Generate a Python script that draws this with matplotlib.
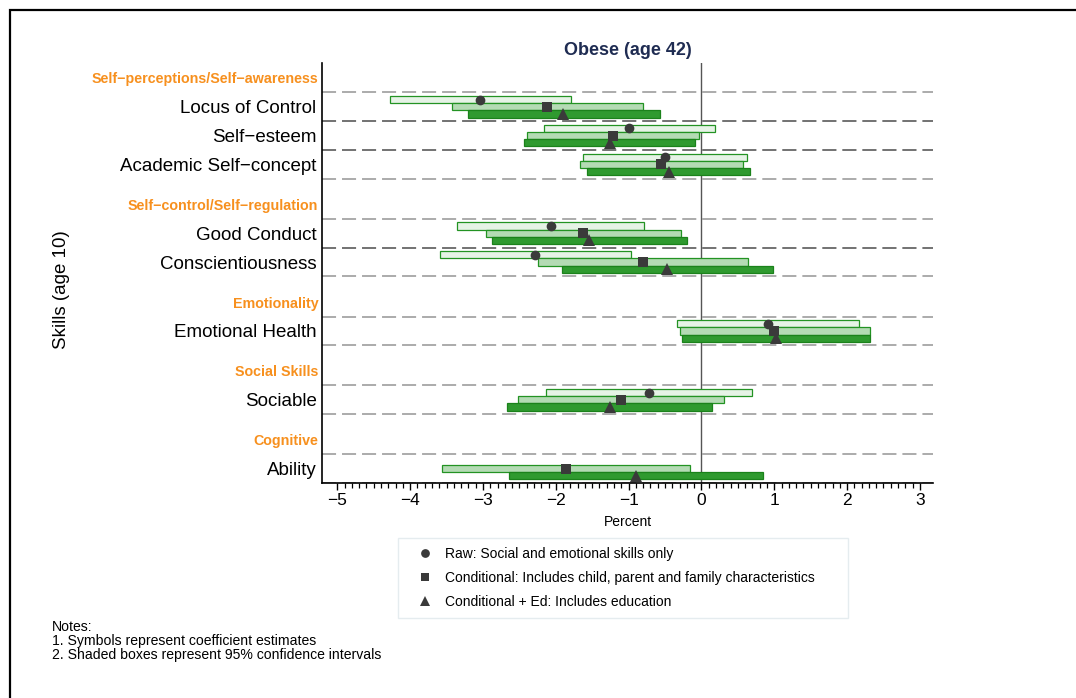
import numpy as np
import matplotlib
matplotlib.use("Agg")
import matplotlib.pyplot as plt
from matplotlib.lines import Line2D
from matplotlib.patches import Rectangle
from matplotlib.transforms import blended_transform_factory

plt.rcParams['font.family'] = ['Liberation Sans', 'DejaVu Sans']

# ---- data -------------------------------------------------------------
groups = ["Self\u2212perceptions/Self\u2212awareness", "Self\u2212control/Self\u2212regulation",
          "Emotionality", "Social Skills", "Cognitive"]
group_sizes = [3, 2, 1, 1, 1]
skills = ["Locus of Control", "Self\u2212esteem", "Academic Self\u2212concept",
          "Good Conduct", "Conscientiousness", "Emotional Health",
          "Sociable", "Ability"]

nan = np.nan
raw_est = [-3.04, -0.99, -0.50, -2.07, -2.28, 0.92, -0.72, nan]
raw_lo = [-4.27, -2.16, -1.62, -3.35, -3.59, -0.33, -2.13, nan]
raw_hi = [-1.79, 0.19, 0.62, -0.79, -0.97, 2.17, 0.69, nan]

cond_est = [-2.12, -1.22, -0.55, -1.62, -0.80, 1.00, -1.11, -1.86]
cond_lo = [-3.43, -2.40, -1.67, -2.96, -2.24, -0.30, -2.52, -3.56]
cond_hi = [-0.80, -0.03, 0.57, -0.28, 0.64, 2.31, 0.31, -0.16]

ed_est = [-1.90, -1.26, -0.45, -1.55, -0.47, 1.02, -1.26, -0.90]
ed_lo = [-3.20, -2.44, -1.57, -2.88, -1.91, -0.27, -2.67, -2.64]
ed_hi = [-0.57, -0.09, 0.67, -0.20, 0.98, 2.32, 0.15, 0.85]

series_labels = ["Raw: Social and emotional skills only",
                 "Conditional: Includes child, parent and family characteristics",
                 "Conditional + Ed: Includes education"]
x_ticks = [-5, -4, -3, -2, -1, 0, 1, 2, 3]

# ---- row layout -------------------------------------------------------
group_gap = 1.39
header_y, skill_y = [], []
pos = 0.0
for gi, n in enumerate(group_sizes):
    if gi > 0:
        pos += group_gap
    header_y.append(pos)
    for _ in range(n):
        pos += 1.0
        skill_y.append(pos)
skill_y = np.array(skill_y)

# ---- figure -----------------------------------------------------------
fig = plt.figure(figsize=(10.76, 6.98), dpi=100)
ax = fig.add_axes([0.2993, 0.3080, 0.8671 - 0.2993, 0.9097 - 0.3080])

fill_cols = ["#e6f3e6", "#b4dbb4", "#2f9a2f"]
edge_cols = ["#239323", "#239323", "#1b821b"]
markers = ["o", "s", "^"]
msizes = [7.0, 6.5, 8.0]
offsets = [-0.25, 0.0, 0.25]
bar_h = 0.25
mark_col = "#3a3a3a"

# dashed separators above and below each skill row
for y in skill_y:
    for yy in (y - 0.5, y + 0.5):
        ax.axhline(yy, color="black", alpha=0.42, lw=1.1,
                   dashes=(9.2, 3.9), zorder=1)

ax.axvline(0, color="#555555", lw=1.0, zorder=1.5)

series = [(raw_lo, raw_hi, raw_est), (cond_lo, cond_hi, cond_est),
          (ed_lo, ed_hi, ed_est)]
for k, (lo, hi, est) in enumerate(series):
    lo = np.array(lo); hi = np.array(hi)
    ok = ~np.isnan(lo)
    yy = skill_y[ok] + offsets[k]
    ax.barh(yy, hi[ok] - lo[ok], left=lo[ok], height=bar_h,
            color=fill_cols[k], edgecolor=edge_cols[k], linewidth=0.9,
            zorder=2 + k * 0.1)
for k, (lo, hi, est) in enumerate(series):
    est = np.array(est)
    ok = ~np.isnan(est)
    ax.plot(est[ok], skill_y[ok] + offsets[k], linestyle="none",
            marker=markers[k], ms=msizes[k], color=mark_col,
            markeredgewidth=0, zorder=5)

ax.set_xlim(-5.21, 3.18)
ax.set_ylim(skill_y[-1] + 0.5, -0.52)

# axes styling
for s in ("top", "right"):
    ax.spines[s].set_visible(False)
for s in ("left", "bottom"):
    ax.spines[s].set_linewidth(1.2)

ax.set_xticks(x_ticks)
ax.set_xticklabels([f"{t}".replace("-", "\u2212") for t in x_ticks], fontsize=12.5)
ax.set_xticks(np.round(np.arange(-5, 3.001, 0.1), 2), minor=True)
ax.tick_params(axis="x", which="major", length=5, width=1.0, pad=2)
ax.tick_params(axis="x", which="minor", length=3.5, width=0.9)
ax.set_xlabel("Percent", fontsize=10, labelpad=5)

ax.set_yticks(skill_y)
ax.set_yticklabels(skills, fontsize=13.5)
ax.tick_params(axis="y", length=0, pad=4)

trans = blended_transform_factory(ax.transAxes, ax.transData)
for g, y in zip(groups, header_y):
    ax.text(-0.006, y + 0.05, g, transform=trans, ha="right", va="center",
            fontsize=10.3, fontweight="bold", color="#f7901e")

ax.set_title("Obese (age 42)", fontsize=13, fontweight="bold",
             color="#1f2c52", pad=6)

fig.text(62 / 1076, 1 - 290 / 698, "Skills (age 10)", rotation=90,
         ha="center", va="center", fontsize=13.5)

# legend
handles = [Line2D([], [], linestyle="none", marker=markers[k], ms=msizes[k] * 0.9,
                  color=mark_col, markeredgewidth=0) for k in range(3)]
leg = fig.legend(handles, series_labels, loc="upper left",
                 bbox_to_anchor=(398 / 1076, 1 - 618 / 698, 450 / 1076, 80 / 698),
                 mode="expand", fontsize=10, frameon=True, fancybox=False,
                 borderaxespad=0, borderpad=0.65, labelspacing=0.73,
                 handlelength=2.6, handletextpad=0.15)
leg.get_frame().set_edgecolor("#dfe8ec")
leg.get_frame().set_linewidth(1.0)

# notes
fig.text(52 / 1076, 1 - 620 / 698,
         "Notes:\n1. Symbols represent coefficient estimates\n"
         "2. Shaded boxes represent 95% confidence intervals",
         ha="left", va="top", fontsize=10.1, linespacing=0.98)

# outer frame
fig.patches.append(Rectangle((10 / 1076, -0.1), 1.2, 0.1 + 1 - 10 / 698,
                             transform=fig.transFigure, fill=False,
                             edgecolor="black", linewidth=1.6))

fig.savefig("out.png", dpi=100)
